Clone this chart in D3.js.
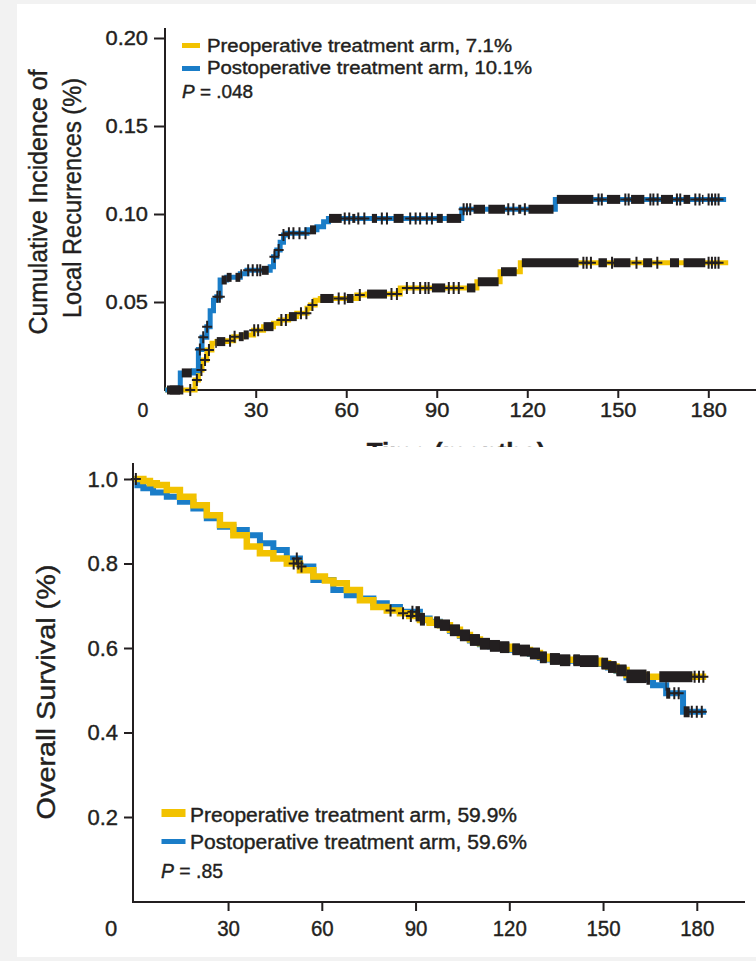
<!DOCTYPE html>
<html>
<head>
<meta charset="utf-8">
<script src="https://cdn.jsdelivr.net/npm/d3@7/dist/d3.min.js"></script>
<style>
body { margin: 0; background: #f2f2f2; }
svg { display: block; font-family: "Liberation Sans", Arial, sans-serif; }
svg text { stroke: #231f20; stroke-width: 0.4px; }
</style>
</head>
<body>
<svg id="fig" width="756" height="961"></svg>
<script>
// ---- data: local recurrence (top), [months, cumulative incidence]
var lrPre = [[0,0],[9.9,0.0057],[11,0.0114],[12.2,0.017],[13.8,0.0227],[15.5,0.0265],[17.1,0.0275],[20.4,0.028],
  [22.7,0.0303],[26,0.0313],[29.3,0.034],[32.6,0.036],[35.9,0.0379],[38.1,0.0398],[40.9,0.0417],[43.6,0.0436],
  [47,0.0464],[48.1,0.0483],[49.7,0.051],[51.4,0.052],[63.5,0.054],[66.9,0.0545],[77.9,0.058],[103.3,0.0615],
  [111,0.0672],[117.7,0.0723]];
var lrPost = [[0,0],[5,0.0097],[9.4,0.011],[11,0.023],[12.2,0.030],[13.8,0.036],[14.9,0.045],[16,0.051],[17.1,0.053],
  [18.2,0.0625],[20.4,0.064],[24.9,0.066],[27.1,0.068],[34.8,0.070],[35.9,0.0757],[37,0.0795],[38.1,0.084],
  [39.2,0.088],[40.3,0.089],[47,0.091],[50.3,0.0928],[52.5,0.0956],[54.1,0.0975],[98.3,0.1027],[129.3,0.1083]];
var lrPreEnd = 186.6, lrPostEnd = 185.9;
var lrPreCensor = [8.3,10.5,12,13.2,14.5,21.5,23,29.5,30.8,38.5,40,45,46.8,48.8,57.5,59.5,64.5,75,76.8,80.1,82.3,
  84.5,86.2,87.3,94,95.6,97.3,138.6,139.7,141.1,148.1,156.2,163.1,180.1,181.2,182.3,183.4];
var lrPreBands = [[1.5,6],[16.6,19.9],[24.4,27.7],[32.6,35.9],[41,43.6],[51.4,55.8],[60.2,62.4],[66.9,73.5],
  [88.4,92.8],[100,102.8],[103.6,110.5],[111.3,116.5],[118.2,137],[143.6,146.4],[148.6,154.2],[158.4,161.4],
  [167.3,170.3],[171.8,179]];
var lrPostCensor = [11.5,12.6,13.9,17.3,18.1,27.5,29,30.5,31.5,36.2,37.6,39.2,41,42.5,44.5,46.5,59.5,61,64,66,71.8,
  73.5,81.2,83,84.5,86.7,88.4,98.9,100,101.1,113.7,115.4,119.2,143.6,144.7,152.5,153.6,160.8,161.8,163.2,169.6,
  170.7,175.7,177.1,180.1,181.2,182.3,183.4];
var lrPostBands = [[0.6,4.9],[5.5,8.8],[18.7,22],[23.3,25.5],[32,34.3],[48,50],[54.3,58.5],[62,63],[68.5,70.2],
  [75.7,79],[90,92],[93.3,98.1],[102.2,106],[107.1,112.6],[117,118],[120.4,128.7],[129.8,141.9],[146.4,150.8],
  [154.4,158.8],[164.3,168.3],[171.8,174],[177.9,178.4]];

// ---- data: overall survival (bottom), [months, survival]
var osPre = [[0,1],[2.9,0.995],[5,0.99],[7.2,0.986],[10.4,0.974],[14.6,0.958],[18.9,0.938],[23.2,0.914],[27.4,0.891],
  [31.7,0.867],[36,0.840],[40.2,0.824],[44.5,0.812],[48.8,0.800],[53,0.784],[57.3,0.769],[61,0.760],[63.7,0.753],
  [68,0.737],[72.2,0.713],[76.5,0.697],[80.8,0.689],[85,0.682],[88,0.676],[91.4,0.666],[94.5,0.660],[97.8,0.654],
  [101,0.643],[104.2,0.631],[107.4,0.620],[110.6,0.611],[113.8,0.606],[117,0.603],[120.2,0.598],[123.4,0.595],
  [126.6,0.588],[129.8,0.579],[133,0.575],[136.2,0.572],[142.6,0.570],[149,0.564],[151.6,0.556],[154.3,0.548],
  [157.5,0.536],[163.9,0.532]];
var osPost = [[0,1],[1,0.985],[2.9,0.978],[6,0.968],[10.4,0.958],[14.6,0.946],[18.9,0.930],[23.2,0.907],[27.4,0.887],
  [31.7,0.879],[36,0.867],[40.2,0.848],[44.5,0.832],[48.8,0.812],[53,0.793],[57.3,0.761],[63.7,0.737],[68,0.725],
  [72.2,0.717],[76.5,0.706],[80.8,0.697],[85,0.686],[91.4,0.670],[94.5,0.662],[97.8,0.654],[101,0.641],[104.2,0.629],
  [107.4,0.618],[110.6,0.609],[113.8,0.604],[117,0.601],[120.2,0.596],[123.4,0.593],[126.6,0.586],[129.8,0.577],
  [133,0.573],[136.2,0.570],[142.6,0.568],[149,0.562],[151.6,0.554],[154.3,0.546],[157.5,0.530],[163.9,0.526],
  [166,0.512],[170.2,0.493],[175.6,0.449]];
var osPreEnd = 183, osPostEnd = 183;
var osPreCensor = [0.5,51,52.5,82,86,88.5,179.3,180.7,182.1];
var osPostCensor = [52,53.5,89,172.8,174.2,178.4,180,181.6];
var osSharedBands = [[90,93],[96,120],[121,132],[133,139.5],[140.5,148.5],[149.5,165]];
var osPreBands = [[168,178.6]];
var osPostBands = [[170,171.5],[175.8,177.7]];

var monthTicks = [30, 60, 90, 120, 150, 180];
var lrTicks = [0.05, 0.10, 0.15, 0.20];
var osTicks = [0.2, 0.4, 0.6, 0.8, 1.0];
var lrLegend = ["Preoperative treatment arm, 7.1%", "Postoperative treatment arm, 10.1%"];
var osLegend = ["Preoperative treatment arm, 59.9%", "Postoperative treatment arm, 59.6%"];

var YELLOW = "#f2c200", BLUE = "#1a7dc8", INK = "#231f20";

var svg = d3.select("#fig");
svg.append("rect").attr("x", 17).attr("y", 4).attr("width", 739).attr("height", 953).attr("fill", "#fff");

function valueAt(series, t) {
    var v = series[0][1];
    series.forEach(function(d) { if (d[0] <= t) v = d[1]; });
    return v;
}

// split a dense censor band into pieces that follow the steps of the curve
function bandPieces(series, band) {
    var cuts = [band[0]];
    series.forEach(function(d) { if (d[0] > band[0] && d[0] < band[1]) cuts.push(d[0]); });
    cuts.push(band[1]);
    var out = [];
    for (var i = 0; i < cuts.length - 1; i++)
        out.push({t0: cuts[i], t1: cuts[i + 1], v: valueAt(series, cuts[i])});
    return out;
}

function stretch(sel, k) {
    sel.each(function() {
        var w = this.getComputedTextLength();
        d3.select(this).attr("textLength", w * k).attr("lengthAdjust", "spacingAndGlyphs");
    });
}

function drawCurve(g, x, y, series, end, color, width) {
    var pts = series.concat([[end, series[series.length - 1][1]]]);
    g.append("path")
        .attr("d", d3.line().x(function(d) { return x(d[0]); }).y(function(d) { return y(d[1]); })
            .curve(d3.curveStepAfter)(pts))
        .attr("fill", "none").attr("stroke", color).attr("stroke-width", width);
}

function drawCensor(g, x, y, series, times, bands, h) {
    bands.forEach(function(b) {
        bandPieces(series, b).forEach(function(p) {
            g.append("rect").attr("x", x(p.t0)).attr("width", Math.max(1, x(p.t1) - x(p.t0)))
                .attr("y", y(p.v) - h / 2).attr("height", h).attr("fill", INK);
        });
    });
    times.forEach(function(t) {
        var cx = x(t), cy = y(valueAt(series, t));
        g.append("path").attr("d", "M" + cx + "," + (cy - 6) + "V" + (cy + 6) + "M" + (cx - 5) + "," + cy + "H" + (cx + 5))
            .attr("stroke", INK).attr("stroke-width", 2).attr("fill", "none");
    });
}

// ================= top panel: local recurrences =================
var xTop = d3.scaleLinear().domain([0, 180]).range([165.2, 708.3]);
var yTop = d3.scaleLinear().domain([0, 0.2]).range([390, 38]);
var gTop = svg.append("g");

svg.append("clipPath").attr("id", "cutTitle").append("rect").attr("x", 0).attr("y", 0).attr("width", 756).attr("height", 447);
gTop.append("text").attr("clip-path", "url(#cutTitle)")
    .attr("x", 456).attr("y", 461).attr("text-anchor", "middle")
    .attr("font-size", 26).attr("font-weight", "bold").attr("fill", INK).text("Time (months)");

var yAxT = gTop.append("g").attr("transform", "translate(165,0)")
    .call(d3.axisLeft(yTop).tickValues(lrTicks).tickFormat(d3.format(".2f")).tickSize(11).tickPadding(6));
var xAxT = gTop.append("g").attr("transform", "translate(0,390)")
    .call(d3.axisBottom(xTop).tickValues(monthTicks).tickSize(8).tickPadding(5));
[yAxT, xAxT].forEach(function(a) {
    a.select(".domain").remove();
    a.selectAll("line").attr("stroke", INK).attr("stroke-width", 2);
    a.selectAll("text").attr("font-size", 19.5).attr("fill", INK).attr("font-family", null);
    stretch(a.selectAll("text"), 1.12);
});
gTop.append("line").attr("x1", 165).attr("x2", 165).attr("y1", 28).attr("y2", 391).attr("stroke", INK).attr("stroke-width", 2);
gTop.append("line").attr("x1", 164).attr("x2", 756).attr("y1", 390).attr("y2", 390).attr("stroke", INK).attr("stroke-width", 2);
gTop.append("text").attr("x", 143).attr("y", 417).attr("text-anchor", "middle").attr("font-size", 19.5).attr("fill", INK).text("0");

gTop.append("text").attr("transform", "translate(47,202) rotate(-90)").attr("text-anchor", "middle")
    .attr("font-size", 25).attr("fill", INK).attr("font-family", "'Liberation Sans Narrow','Liberation Sans',Arial")
    .attr("textLength", 265).attr("lengthAdjust", "spacingAndGlyphs").text("Cumulative Incidence of");
gTop.append("text").attr("transform", "translate(81,198) rotate(-90)").attr("text-anchor", "middle")
    .attr("font-size", 25).attr("fill", INK).attr("font-family", "'Liberation Sans Narrow','Liberation Sans',Arial")
    .attr("textLength", 240).attr("lengthAdjust", "spacingAndGlyphs").text("Local Recurrences (%)");

drawCurve(gTop, xTop, yTop, lrPre, lrPreEnd, YELLOW, 5);
drawCurve(gTop, xTop, yTop, lrPost, lrPostEnd, BLUE, 5);
drawCensor(gTop, xTop, yTop, lrPre, lrPreCensor, lrPreBands, 9);
drawCensor(gTop, xTop, yTop, lrPost, lrPostCensor, lrPostBands, 9);

[YELLOW, BLUE].forEach(function(c, i) {
    gTop.append("rect").attr("x", 182).attr("y", 43 + i * 23).attr("width", 18).attr("height", 5).attr("fill", c);
    gTop.append("text").attr("x", 207).attr("y", 52 + i * 22).attr("font-size", 17.5).attr("fill", INK)
        .attr("textLength", i ? 325 : 305).attr("lengthAdjust", "spacingAndGlyphs").text(lrLegend[i]);
});
var pT = gTop.append("text").attr("x", 182).attr("y", 98).attr("font-size", 17.5).attr("fill", INK)
    .attr("textLength", 71).attr("lengthAdjust", "spacingAndGlyphs");
pT.append("tspan").attr("font-style", "italic").text("P");
pT.append("tspan").text(" = .048");

// ================= bottom panel: overall survival =================
var xBot = d3.scaleLinear().domain([0, 180]).range([134.3, 696.8]);
var yBot = d3.scaleLinear().domain([0, 1]).range([901.5, 479]);
var gBot = svg.append("g");

var yAxB = gBot.append("g").attr("transform", "translate(133,0)")
    .call(d3.axisLeft(yBot).tickValues(osTicks).tickFormat(d3.format(".1f")).tickSize(9).tickPadding(6));
var xAxB = gBot.append("g").attr("transform", "translate(0,902)")
    .call(d3.axisBottom(xBot).tickValues(monthTicks).tickSize(9).tickPadding(9));
[yAxB, xAxB].forEach(function(a) {
    a.select(".domain").remove();
    a.selectAll("line").attr("stroke", INK).attr("stroke-width", 2);
    a.selectAll("text").attr("font-size", 22).attr("fill", INK).attr("font-family", null);
});
stretch(xAxB.selectAll("text"), 0.93);
gBot.append("line").attr("x1", 133).attr("x2", 133).attr("y1", 463).attr("y2", 903).attr("stroke", INK).attr("stroke-width", 2);
gBot.append("line").attr("x1", 132).attr("x2", 745).attr("y1", 902).attr("y2", 902).attr("stroke", INK).attr("stroke-width", 2);
gBot.append("text").attr("x", 111).attr("y", 936).attr("text-anchor", "middle").attr("font-size", 22).attr("fill", INK).text("0");

gBot.append("text").attr("transform", "translate(55,692) rotate(-90)").attr("text-anchor", "middle")
    .attr("font-size", 25).attr("fill", INK).attr("font-family", "'Liberation Sans Narrow','Liberation Sans',Arial")
    .attr("textLength", 255).attr("lengthAdjust", "spacingAndGlyphs").text("Overall Survival (%)");

drawCurve(gBot, xBot, yBot, osPost, osPostEnd, BLUE, 6);
drawCurve(gBot, xBot, yBot, osPre, osPreEnd, YELLOW, 6.5);
drawCensor(gBot, xBot, yBot, osPost, osPostCensor, osSharedBands.concat(osPostBands), 11);
drawCensor(gBot, xBot, yBot, osPre, osPreCensor, osSharedBands.concat(osPreBands), 11);

[YELLOW, BLUE].forEach(function(c, i) {
    gBot.append("rect").attr("x", 161.5).attr("y", i ? 839 : 809).attr("width", 24).attr("height", i ? 5 : 8).attr("fill", c);
    gBot.append("text").attr("x", 190).attr("y", 822 + i * 27).attr("font-size", 20).attr("fill", INK)
        .attr("textLength", i ? 337 : 327).attr("lengthAdjust", "spacingAndGlyphs").text(osLegend[i]);
});
var pB = gBot.append("text").attr("x", 161).attr("y", 878).attr("font-size", 20).attr("fill", INK)
    .attr("textLength", 62).attr("lengthAdjust", "spacingAndGlyphs");
pB.append("tspan").attr("font-style", "italic").text("P");
pB.append("tspan").text(" = .85");
</script>
</body>
</html>
